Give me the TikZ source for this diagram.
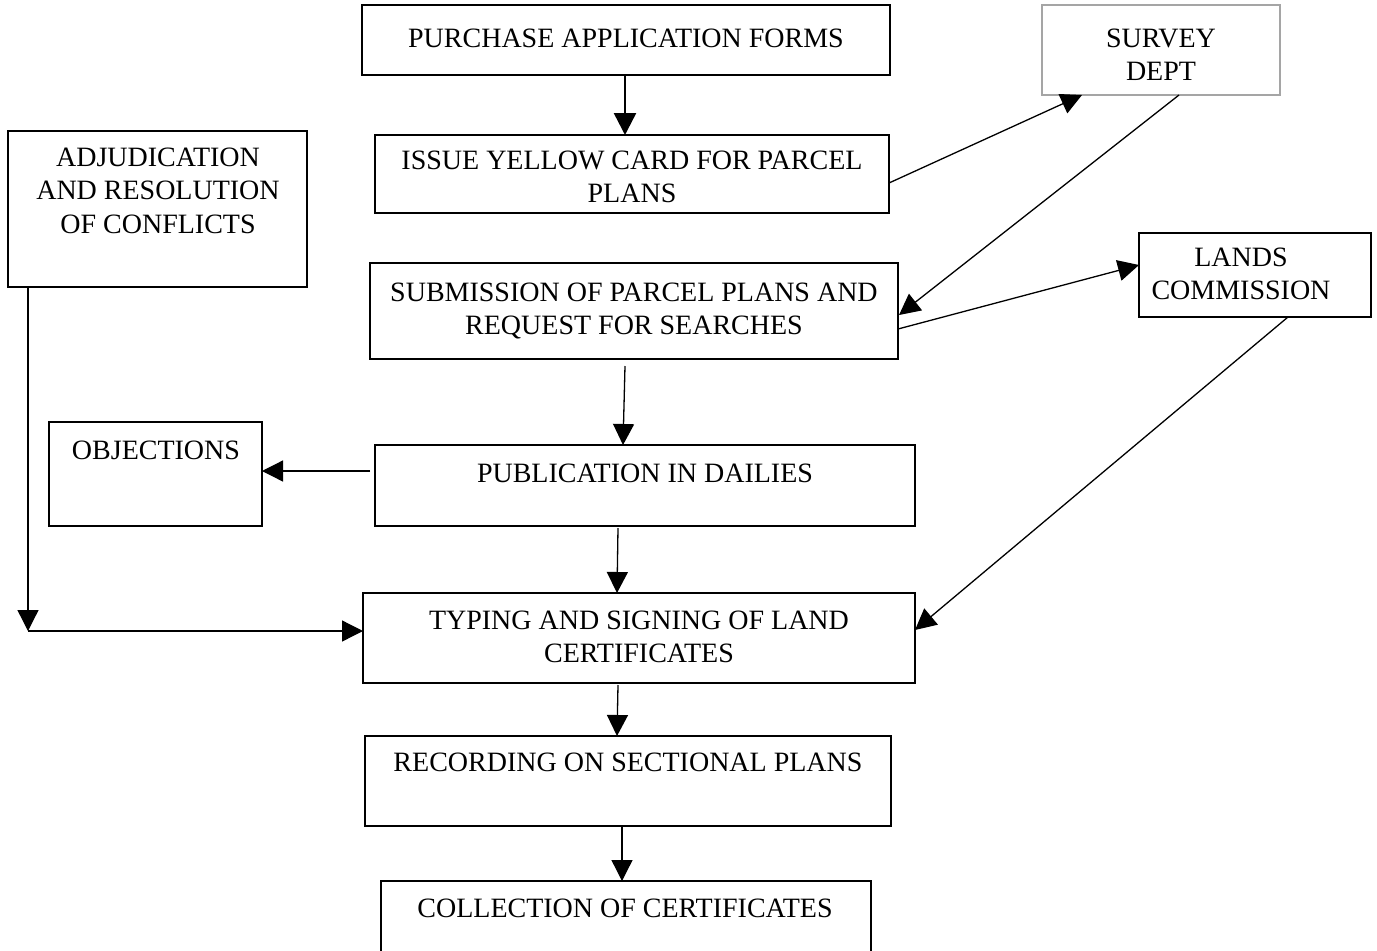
\documentclass[tikz,border=0pt]{standalone}
\usepackage{fontspec}
\setmainfont{Liberation Serif}
\usetikzlibrary{arrows.meta,calc}
\begin{document}
\begin{tikzpicture}[x=1pt,y=-1pt,
  box/.style={draw=black,line width=2.3pt,inner sep=0pt,outer sep=0pt,anchor=north west,fill=white},
  graybox/.style={box,draw={rgb,255:red,165;green,165;blue,165}},
  txt/.style={anchor=north,inner sep=0pt,align=center,font=\fontsize{28}{33.5}\selectfont},
  conn/.style={line width=1.3pt,-{Triangle[length=21pt,width=21pt]}},
  thickconn/.style={line width=2.5pt,-{Triangle[length=22pt,width=22pt]}}]
\clip (0,0) rectangle (1377,951);
\fill[white] (0,0) rectangle (1377,951);
% boxes
\node[box,minimum width=528pt,minimum height=70pt] (purchase) at (362,5) {};
\node[graybox,minimum width=238pt,minimum height=90pt] (survey) at (1042,5) {};
\node[box,minimum width=514pt,minimum height=78pt] (issue) at (375,135) {};
\node[box,minimum width=299pt,minimum height=156pt] (adjud) at (8,131) {};
\node[box,minimum width=528pt,minimum height=96pt] (submission) at (370,263) {};
\node[box,minimum width=232pt,minimum height=84pt] (lands) at (1139,233) {};
\node[box,minimum width=213pt,minimum height=104pt] (objections) at (49,422) {};
\node[box,minimum width=540pt,minimum height=81pt] (publication) at (375,445) {};
\node[box,minimum width=552pt,minimum height=90pt] (typing) at (363,593) {};
\node[box,minimum width=526pt,minimum height=90pt] (recording) at (365,736) {};
\node[box,minimum width=490pt,minimum height=90pt] (collection) at (381,881) {};
% texts
\node[txt] (tpurchase) at (626,23.5) {\strut PURCHASE APPLICATION FORMS};
\node[txt] (tsurvey) at (1161,23.5) {\strut SURVEY\\\strut DEPT};
\node[txt] (tissue) at (632,145.5) {\strut ISSUE YELLOW CARD FOR PARCEL\\\strut PLANS};
\node[txt] (tadjud) at (158,142.5) {\strut ADJUDICATION\\\strut AND RESOLUTION\\\strut OF CONFLICTS};
\node[txt] (tsubmission) at (634,277.5) {\strut SUBMISSION OF PARCEL PLANS AND\\\strut REQUEST FOR SEARCHES};
\node[txt] (tlands) at (1241,242.5) {\strut LANDS\\\strut COMMISSION};
\node[txt] (tobjections) at (156,435.5) {\strut OBJECTIONS};
\node[txt] (tpublication) at (645,458.5) {\strut PUBLICATION IN DAILIES};
\node[txt] (ttyping) at (639,605.5) {\strut TYPING AND SIGNING OF LAND\\\strut CERTIFICATES};
\node[txt] (trecording) at (628,747.5) {\strut RECORDING ON SECTIONAL PLANS};
\node[txt] (tcollection) at (625,893.5) {\strut COLLECTION OF CERTIFICATES};
% connectors
\draw[thickconn] ([xshift=-1pt]purchase.south) -- ([xshift=-1pt]purchase.south |- issue.north);
\draw[conn] ([yshift=-9pt]issue.east) -- ([xshift=-79pt]survey.south);
\draw[conn] ([xshift=18pt]survey.south) -- ([xshift=1pt,yshift=-4pt]submission.east);
\draw[conn] ([yshift=-18pt]submission.east) -- ([yshift=10pt]lands.west);
\draw[conn] ([xshift=-9pt,yshift=-7pt]submission.south) -- ([xshift=-22pt]publication.north);
\draw[conn] ([xshift=-5pt,yshift=14.5pt]publication.west) -- ([yshift=3pt]objections.east);
\draw[conn] ([xshift=-27pt,yshift=-2pt]publication.south) -- ([xshift=-22pt]typing.north);
\path ([xshift=-129.5pt]adjud.south) coordinate (adfoot);
\path ([yshift=7pt]typing.west) coordinate (tywest);
\coordinate (corner) at (adfoot |- tywest);
\draw[conn] (adfoot) -- (corner);
\draw[conn] (corner) -- (tywest);
\draw[conn] ([xshift=33pt]lands.south) -- ([yshift=8pt]typing.east);
\draw[conn] ([xshift=-21pt,yshift=-2pt]typing.south) -- ([xshift=-11pt]recording.north);
\draw[conn] ([xshift=-6pt]recording.south) -- ([xshift=-4pt]collection.north);
\end{tikzpicture}
\end{document}
